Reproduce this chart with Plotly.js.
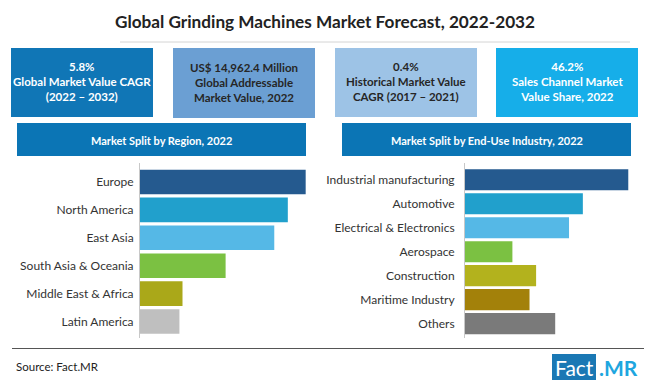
<!DOCTYPE html>
<html>
<head>
<meta charset="utf-8">
<script src="https://cdn.plot.ly/plotly-3.0.1.min.js"></script>
<style>
html,body{margin:0;padding:0;background:#fff;}
#chart{width:650px;height:385px;}
</style>
</head>
<body>
<div id="chart"></div>
<script>
// ---- Data ----
const chartTitle = "Global Grinding Machines Market Forecast, 2022-2032";
const kpiTexts = [
  "5.8%<br>Global Market Value CAGR<br>(2022 – 2032)",
  "US$ 14,962.4 Million<br>Global Addressable<br>Market Value, 2022",
  "0.4%<br>Historical Market Value<br>CAGR (2017 – 2021)",
  "46.2%<br>Sales Channel Market<br>Value Share, 2022"
];
const regionTitle = "Market Split by Region, 2022";
const regions = ["Europe", "North America", "East Asia", "South Asia & Oceania", "Middle East & Africa", "Latin America"];
const regionShare = [26.9, 24.0, 21.8, 13.9, 6.9, 6.4];
const regionColors = ["#255a8f", "#21a0cc", "#55b8e6", "#7bc142", "#aaa819", "#bfbfbf"];

const industryTitle = "Market Split by End-Use Industry, 2022";
const industries = ["Industrial manufacturing", "Automotive", "Electrical & Electronics", "Aerospace", "Construction", "Maritime Industry", "Others"];
const industryShare = [24.8, 17.9, 15.8, 7.2, 10.8, 9.8, 13.7];
const industryColors = ["#255a8f", "#21a0cc", "#55b8e6", "#7bc142", "#b3b21d", "#a3810a", "#7a7a7a"];

const sourceText = "Source: Fact.MR";

// ---- Layout helpers ----
const W = 650, H = 385;
const px = x => x / W;
const py = y => 1 - y / H;
const FONT = "Lato, 'Open Sans', sans-serif";

const traces = [
  {
    type: "bar", orientation: "h",
    x: regionShare, y: regions,
    marker: {color: regionColors},
    xaxis: "x", yaxis: "y",
    hoverinfo: "skip", showlegend: false
  },
  {
    type: "bar", orientation: "h",
    x: industryShare, y: industries,
    marker: {color: industryColors},
    xaxis: "x2", yaxis: "y2",
    hoverinfo: "skip", showlegend: false
  }
];

const kpiBoxes = [
  {x0: 11, x1: 153, y0: 48, y1: 117, fill: "#1076b6", txt: "#ffffff"},
  {x0: 173, x1: 315, y0: 48, y1: 118, fill: "#6b9fd3", txt: "#262626"},
  {x0: 335, x1: 477, y0: 48, y1: 117, fill: "#9dc3e6", txt: "#262626"},
  {x0: 496, x1: 638, y0: 48, y1: 117, fill: "#16aee9", txt: "#ffffff"}
];

const shapes = [];
const annotations = [];

// title underline
shapes.push({type: "line", xref: "paper", yref: "paper", x0: px(120), x1: px(630), y0: py(42), y1: py(42),
  line: {color: "#d4d4d4", width: 1}});

kpiBoxes.forEach((b, i) => {
  shapes.push({type: "rect", xref: "paper", yref: "paper", x0: px(b.x0), x1: px(b.x1), y0: py(b.y1), y1: py(b.y0),
    fillcolor: b.fill, line: {width: 0}, layer: "below"});
  annotations.push({xref: "paper", yref: "paper", x: px((b.x0 + b.x1) / 2), y: py((b.y0 + b.y1) / 2 - 0.5),
    xanchor: "center", yanchor: "middle", showarrow: false, text: "<b>" + kpiTexts[i].split("<br>").join("</b><br><b>") + "</b>",
    font: {family: FONT, size: 11.5, color: b.txt}, align: "center"});
});

// section headers
const headers = [
  {x0: 17, x1: 306, text: regionTitle},
  {x0: 342, x1: 631, text: industryTitle}
];
headers.forEach(h => {
  shapes.push({type: "rect", xref: "paper", yref: "paper", x0: px(h.x0), x1: px(h.x1), y0: py(156), y1: py(123),
    fillcolor: "#0b75b5", line: {width: 0}, layer: "below"});
  annotations.push({xref: "paper", yref: "paper", x: px((h.x0 + h.x1) / 2), y: py(140),
    xanchor: "center", yanchor: "middle", showarrow: false, text: "<b>" + h.text + "</b>",
    font: {family: FONT, size: 11, color: "#ffffff"}});
});

// bottom rule
shapes.push({type: "line", xref: "paper", yref: "paper", x0: px(12), x1: px(644), y0: py(348.5), y1: py(348.5),
  line: {color: "#555555", width: 1}});

// source
annotations.push({xref: "paper", yref: "paper", x: px(14), y: py(366), xanchor: "left", yanchor: "middle",
  showarrow: false, text: sourceText, font: {family: FONT, size: 11.5, color: "#222222"}});

// logo
shapes.push({type: "rect", xref: "paper", yref: "paper", x0: px(552), x1: px(596), y0: py(380), y1: py(354),
  fillcolor: "#1a78b4", line: {width: 0}});
annotations.push({xref: "paper", yref: "paper", x: px(574), y: py(367.5), xanchor: "center", yanchor: "middle",
  showarrow: false, text: "Fact", font: {family: FONT, size: 21, color: "#ffffff"}});
annotations.push({xref: "paper", yref: "paper", x: px(597), y: py(367.5), xanchor: "left", yanchor: "middle",
  showarrow: false, text: "<b>.MR</b>", font: {family: FONT, size: 21, color: "#1ea6df"}});

const layout = {
  width: W, height: H,
  margin: {l: 0, r: 0, t: 0, b: 0},
  paper_bgcolor: "#ffffff", plot_bgcolor: "rgba(0,0,0,0)",
  title: {text: "<b>" + chartTitle + "</b>", x: 0.5, xanchor: "center", y: py(22), yanchor: "middle",
    font: {family: FONT, size: 17.2, color: "#222222"}},
  showlegend: false,
  bargap: 0.12,
  xaxis: {domain: [px(140), px(306.3)], range: [0, 27], visible: false, fixedrange: true},
  yaxis: {domain: [py(338), py(163)], type: "category", range: [5.59, -0.68],
    showline: true, linecolor: "#c8c8c8", linewidth: 1, ticks: "", showgrid: false, zeroline: false,
    ticklabelstandoff: 3, tickfont: {family: FONT, size: 12, color: "#333333"}, fixedrange: true},
  xaxis2: {domain: [px(465), px(629.6)], range: [0, 25], visible: false, anchor: "y2", fixedrange: true},
  yaxis2: {domain: [py(338), py(163)], type: "category", range: [6.6, -0.7], anchor: "x2",
    showline: true, linecolor: "#c8c8c8", linewidth: 1, ticks: "", showgrid: false, zeroline: false,
    ticklabelstandoff: 7, tickfont: {family: FONT, size: 12, color: "#333333"}, fixedrange: true},
  shapes: shapes,
  annotations: annotations
};

Plotly.newPlot("chart", traces, layout, {staticPlot: true, displayModeBar: false});
</script>
</body>
</html>
